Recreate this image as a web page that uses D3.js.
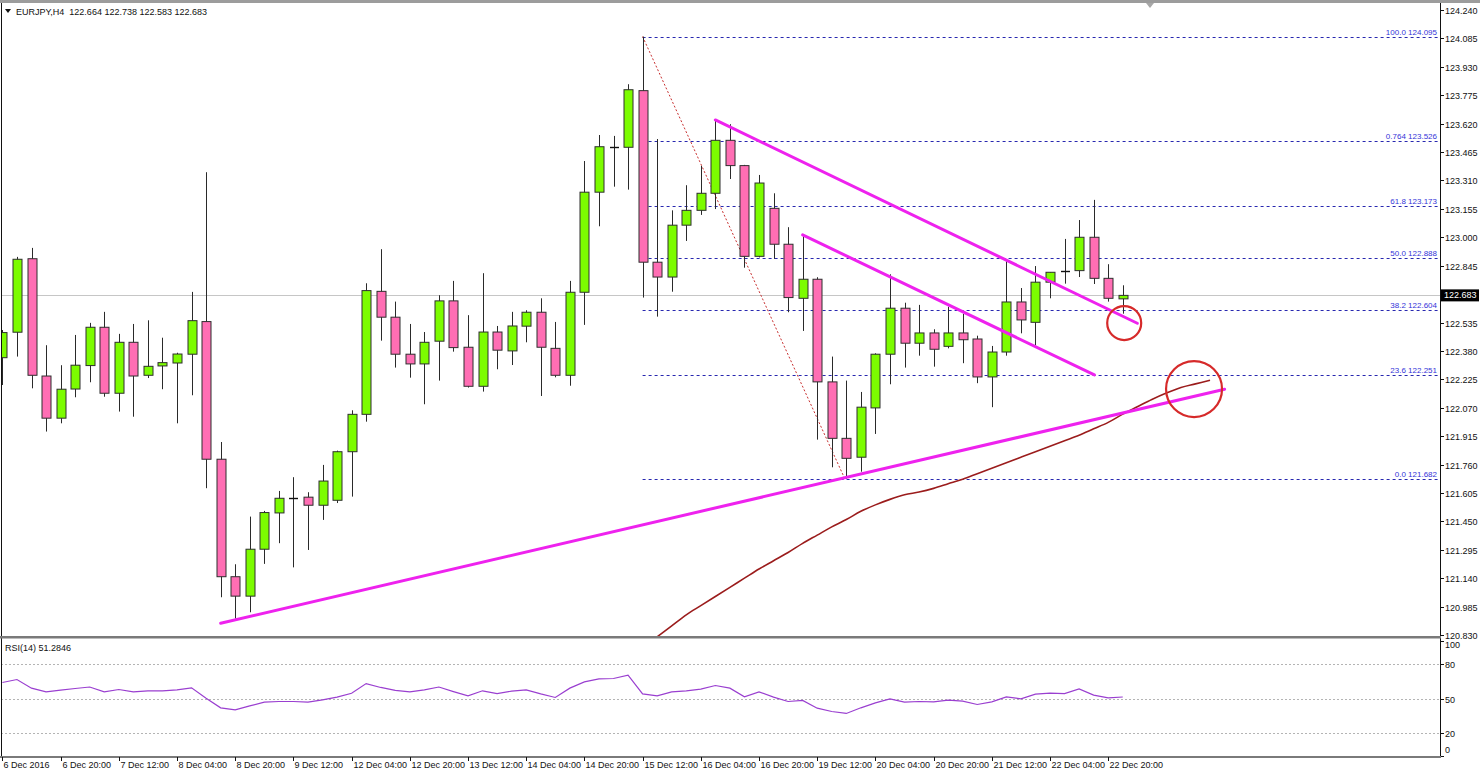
<!DOCTYPE html>
<html><head><meta charset="utf-8">
<script src="https://cdn.jsdelivr.net/npm/d3@7/dist/d3.min.js"></script>
<style>
html,body{margin:0;padding:0;background:#fff;}
svg{display:block;font-family:Tahoma,"Liberation Sans",Arial,sans-serif;}
</style></head><body>
<script>
// ---------- DATA ----------
const symbolTitle = "EURJPY,H4  122.664 122.738 122.583 122.683";
const rsiTitle = "RSI(14) 51.2846";
const timeLabels = ["6 Dec 2016","6 Dec 20:00","7 Dec 12:00","8 Dec 04:00","8 Dec 20:00","9 Dec 12:00",
  "12 Dec 04:00","12 Dec 20:00","13 Dec 12:00","14 Dec 04:00","14 Dec 20:00","15 Dec 12:00",
  "16 Dec 04:00","16 Dec 20:00","19 Dec 12:00","20 Dec 04:00","20 Dec 20:00","21 Dec 12:00",
  "22 Dec 04:00","22 Dec 20:00"];
const timeLabelIndex = [0,4,8,12,16,20,24,28,32,36,40,44,48,52,56,60,64,68,72,76];
const priceTicks = ["124.240","124.085","123.930","123.775","123.620","123.465","123.310","123.155",
  "123.000","122.845","122.690","122.535","122.380","122.225","122.070","121.915","121.760",
  "121.605","121.450","121.295","121.140","120.985","120.830"];
const rsiTicks = [100,80,50,20,0];
const rsiLevels = [80,50,20];

const opens  = [122.343,122.482,122.883,122.243,122.013,122.172,122.300,122.509,122.149,122.427,
  122.247,122.298,122.314,122.362,122.540,121.789,121.148,121.042,121.298,121.496,
  121.576,121.582,121.538,121.565,121.830,122.034,122.705,122.564,122.362,122.309,
  122.433,122.653,122.400,122.187,122.483,122.380,122.515,122.591,122.394,122.247,
  122.700,123.246,123.493,123.491,123.800,122.864,122.783,123.066,123.147,123.240,
  123.529,123.391,122.896,123.158,122.962,122.667,122.771,122.211,121.903,121.800,
  122.069,122.362,122.613,122.422,122.478,122.405,122.478,122.445,122.238,122.374,
  122.647,122.536,122.755,122.816,122.818,123.000,122.776,122.664];
const highs  = [122.494,122.893,122.942,122.411,122.302,122.467,122.533,122.593,122.473,122.527,
  122.547,122.452,122.370,122.702,123.355,121.883,121.216,121.476,121.507,121.616,
  121.691,121.609,121.758,121.836,122.056,122.749,122.935,122.649,122.527,122.483,
  122.684,122.762,122.575,122.804,122.516,122.593,122.602,122.667,122.538,122.762,
  123.416,123.558,123.553,123.835,124.095,123.536,123.147,123.284,123.389,123.640,
  123.617,123.395,123.340,123.240,123.055,123.013,122.782,122.349,122.218,122.156,
  122.367,122.798,122.643,122.631,122.498,122.621,122.582,122.463,122.407,122.871,
  122.723,122.843,122.809,122.991,123.094,123.204,122.853,122.738];
const lows   = [122.194,122.349,122.176,121.940,121.985,122.127,122.209,122.130,122.049,122.021,
  122.232,122.171,121.985,122.138,121.631,121.036,120.919,120.954,121.218,121.331,
  121.199,121.294,121.458,121.550,121.585,121.994,122.436,122.289,122.234,122.089,
  122.218,122.376,122.180,122.158,122.280,122.303,122.427,122.134,122.236,122.190,
  122.522,123.060,123.276,123.260,122.671,122.567,122.703,122.980,123.122,123.154,
  123.318,122.834,122.890,122.882,122.591,122.489,121.896,121.745,121.682,121.721,
  121.927,122.198,122.289,122.354,122.294,122.394,122.313,122.204,122.073,122.354,
  122.476,122.411,122.667,122.747,122.783,122.745,122.649,122.583];
const closes = [122.480,122.880,122.247,122.013,122.171,122.302,122.509,122.149,122.427,122.243,
  122.296,122.316,122.363,122.545,121.789,121.148,121.042,121.298,121.498,121.576,
  121.578,121.538,121.670,121.830,122.034,122.709,122.564,122.362,122.309,122.427,
  122.653,122.398,122.187,122.483,122.384,122.516,122.591,122.400,122.247,122.700,
  123.246,123.494,123.491,123.805,122.864,122.783,123.066,123.147,123.240,123.529,
  123.391,122.896,123.296,122.962,122.671,122.771,122.211,121.903,121.794,122.073,
  122.362,122.613,122.422,122.478,122.389,122.478,122.441,122.238,122.374,122.647,
  122.549,122.755,122.809,122.814,123.000,122.776,122.667,122.683];

const rsiValues = [63.9,66.5,59,55.8,57.2,58.7,60,55.8,57.8,55.8,
  56.7,56.7,57.5,59.3,50.3,41.9,40.1,43.6,46.8,47.4,
  47.4,46.8,48.8,51.2,54.6,63,59.6,57,55.8,57.5,
  60,56,52.3,56.7,54.3,56.4,57.5,54,50.9,59,
  64.5,67.1,67.4,70.3,54,52.3,55.8,56.7,58.1,61.3,
  59,51.5,55.8,51.2,47.4,48.3,41.6,38.7,37,41.9,
  46.2,49.7,46.8,47.4,47.1,48.6,47.7,44.8,47.1,51.4,
  49.7,53.8,54.6,54.3,58.4,52.9,50.6,51.3];

const maStartIndex = 45;
const maValues = [120.82,120.88,120.94,120.99,121.04,121.09,121.14,121.19,121.235,121.28,
  121.33,121.375,121.42,121.46,121.505,121.54,121.57,121.595,121.61,121.63,
  121.655,121.68,121.71,121.74,121.77,121.80,121.83,121.86,121.89,121.92,
  121.955,121.99,122.035,122.075,122.115,122.15,122.18,122.20,122.22];

const fibNames  = ["100.0","0.764","61.8","50.0","38.2","23.6","0.0"];
const fibPrices = [124.095,123.526,123.173,122.888,122.604,122.251,121.682];
const fibStartIndex = 44;
const fibDiagonal = [[44,124.095],[57.9,121.682]];

const trendUpper   = [[49,123.640],[78,122.531]];
const trendLower   = [[55,123.013],[75.05,122.249]];
const trendSupport = [[15,120.894],[84,122.171]];

const circles = [[77.1,122.532,17],[81.9,122.172,28]]; // index, price, radius
const lastPrice = 122.683;

// ---------- LAYOUT ----------
const W = 1480, H = 772;
const plotL = 1, plotR = 1440, mainTop = 3, mainBot = 636, rsiTop = 638, rsiBot = 757;

const svg = d3.select("body").append("svg").attr("width", W).attr("height", H);

const x = d3.scaleLinear().domain([0, 77]).range([2.4, 2.4 + 77 * 14.55]);
const y = d3.scaleLinear().domain([120.83, 124.24]).range([635, 10]);
const yr = d3.scaleLinear().domain([0, 100]).range([756, 641]);

const defs = svg.append("defs");
defs.append("clipPath").attr("id", "mainClip").append("rect")
  .attr("x", plotL).attr("y", mainTop).attr("width", plotR - plotL).attr("height", mainBot - mainTop);

// top band
svg.append("rect").attr("x", 0).attr("y", 0).attr("width", W).attr("height", 3).attr("fill", "#9c9c9c");
// small shift marker
svg.append("path").attr("d", "M1146,3 L1154,3 L1150,8 Z").attr("fill", "#a8a8a8");

const main = svg.append("g").attr("clip-path", "url(#mainClip)");

// current price line
main.append("line").attr("x1", plotL).attr("x2", plotR)
  .attr("y1", Math.round(y(lastPrice)) + 0.5).attr("y2", Math.round(y(lastPrice)) + 0.5)
  .attr("stroke", "#c6c6c6").attr("stroke-width", 1);

// fib levels
fibPrices.forEach((p, i) => {
  const yy = Math.round(y(p)) + 0.5;
  main.append("line").attr("x1", x(fibStartIndex)).attr("x2", plotR - 2)
    .attr("y1", yy).attr("y2", yy)
    .attr("stroke", "#2828b0").attr("stroke-width", 1).attr("stroke-dasharray", "3,3");
  main.append("text").attr("x", plotR - 3).attr("y", yy - 2.5)
    .attr("text-anchor", "end").attr("font-size", 8).attr("fill", "#3434d8")
    .text(fibNames[i] + " " + p.toFixed(3));
});

// fib diagonal
main.append("line")
  .attr("x1", x(fibDiagonal[0][0])).attr("y1", y(fibDiagonal[0][1]))
  .attr("x2", x(fibDiagonal[1][0])).attr("y2", y(fibDiagonal[1][1]))
  .attr("stroke", "#c83030").attr("stroke-width", 1).attr("stroke-dasharray", "2,2");

// moving average
const maLine = d3.line().x((d, i) => x(maStartIndex + i)).y(d => y(d)).curve(d3.curveMonotoneX);
main.append("path").datum(maValues).attr("d", maLine)
  .attr("fill", "none").attr("stroke", "#9b1c1c").attr("stroke-width", 1.6);

// candles
const candles = opens.map((o, i) => ({ i, o, h: highs[i], l: lows[i], c: closes[i] }));
const bw = 9;
const cg = main.append("g");
candles.forEach(d => {
  const cx = Math.round(x(d.i)) + 0.5;
  cg.append("line").attr("x1", cx).attr("x2", cx).attr("y1", y(d.h)).attr("y2", y(d.l))
    .attr("stroke", "#2a2a2a").attr("stroke-width", 1);
  const top = y(Math.max(d.o, d.c)), bot = y(Math.min(d.o, d.c));
  const up = d.c >= d.o;
  if (bot - top < 1.5) {
    cg.append("line").attr("x1", cx - bw / 2).attr("x2", cx + bw / 2)
      .attr("y1", Math.round(top) + 0.5).attr("y2", Math.round(top) + 0.5)
      .attr("stroke", "#111").attr("stroke-width", 1.4);
  } else {
    cg.append("rect").attr("x", cx - bw / 2).attr("y", top).attr("width", bw).attr("height", bot - top)
      .attr("fill", up ? "#7cfc00" : "#ff6eb4").attr("stroke", "#2e2e2e").attr("stroke-width", 1);
  }
});

// trend lines
[trendUpper, trendLower, trendSupport].forEach(t => {
  main.append("line")
    .attr("x1", x(t[0][0])).attr("y1", y(t[0][1]))
    .attr("x2", x(t[1][0])).attr("y2", y(t[1][1]))
    .attr("stroke", "#ee22ee").attr("stroke-width", 3).attr("stroke-linecap", "round");
});

// circles
circles.forEach(c => {
  main.append("ellipse").attr("cx", x(c[0])).attr("cy", y(c[1])).attr("rx", c[2]).attr("ry", c[2])
    .attr("fill", "none").attr("stroke", "#d62a2a").attr("stroke-width", 2.2);
});

// header
svg.append("path").attr("d", "M5,9 L11,9 L8,13 Z").attr("fill", "#111");
svg.append("text").attr("x", 16).attr("y", 14.5).attr("font-size", 9).attr("fill", "#111")
  .attr("xml:space", "preserve").style("white-space", "pre").text(symbolTitle);

// ---------- RSI ----------
rsiLevels.forEach(v => {
  const yy = Math.round(yr(v)) + 0.5;
  svg.append("line").attr("x1", plotL).attr("x2", plotR).attr("y1", yy).attr("y2", yy)
    .attr("stroke", "#b4b4b4").attr("stroke-width", 1).attr("stroke-dasharray", "2,2");
});
const rsiLine = d3.line().x((d, i) => x(i)).y(d => yr(d));
svg.append("path").datum(rsiValues).attr("d", rsiLine)
  .attr("fill", "none").attr("stroke", "#9a3fd0").attr("stroke-width", 1.2);
svg.append("text").attr("x", 5).attr("y", 651).attr("font-size", 9).attr("fill", "#111").text(rsiTitle);

// ---------- FRAMES ----------
svg.append("line").attr("x1", 1.5).attr("x2", 1.5).attr("y1", mainTop).attr("y2", rsiBot)
  .attr("stroke", "#111").attr("stroke-width", 1);
svg.append("line").attr("x1", plotR + 0.5).attr("x2", plotR + 0.5).attr("y1", mainTop).attr("y2", rsiBot)
  .attr("stroke", "#111").attr("stroke-width", 1);
svg.append("rect").attr("x", 0).attr("y", mainBot).attr("width", plotR + 1).attr("height", 2.5).attr("fill", "#7a7a7a");
svg.append("rect").attr("x", 0).attr("y", rsiBot - 1).attr("width", plotR + 1).attr("height", 2).attr("fill", "#7a7a7a");

// price axis
const pa = svg.append("g");
priceTicks.forEach(t => {
  const yy = Math.round(y(+t)) + 0.5;
  pa.append("line").attr("x1", plotR + 1).attr("x2", plotR + 4).attr("y1", yy).attr("y2", yy)
    .attr("stroke", "#111");
  pa.append("text").attr("x", plotR + 5).attr("y", yy + 3).attr("font-size", 9).attr("fill", "#111").text(t);
});
// current price tag
const ly = y(lastPrice);
pa.append("rect").attr("x", plotR + 1).attr("y", ly - 6).attr("width", 38).attr("height", 12).attr("fill", "#000");
pa.append("text").attr("x", plotR + 4).attr("y", ly + 3).attr("font-size", 9).attr("fill", "#fff").text(lastPrice.toFixed(3));

// rsi axis
rsiTicks.forEach(v => {
  const yy = Math.round(yr(v)) + 0.5;
  const ty = Math.min(Math.max(yy, 645), 750);
  pa.append("line").attr("x1", plotR + 1).attr("x2", plotR + 4).attr("y1", yy).attr("y2", yy).attr("stroke", "#111");
  pa.append("text").attr("x", plotR + 5).attr("y", ty + 3).attr("font-size", 9).attr("fill", "#111").text(v);
});

// time axis
timeLabels.forEach((t, k) => {
  const xx = Math.round(x(timeLabelIndex[k])) + 0.5;
  svg.append("line").attr("x1", xx).attr("x2", xx).attr("y1", rsiBot).attr("y2", rsiBot + 4).attr("stroke", "#111");
  svg.append("text").attr("x", xx + 1).attr("y", 768).attr("font-size", 9).attr("fill", "#111").text(t);
});
</script>
</body></html>
